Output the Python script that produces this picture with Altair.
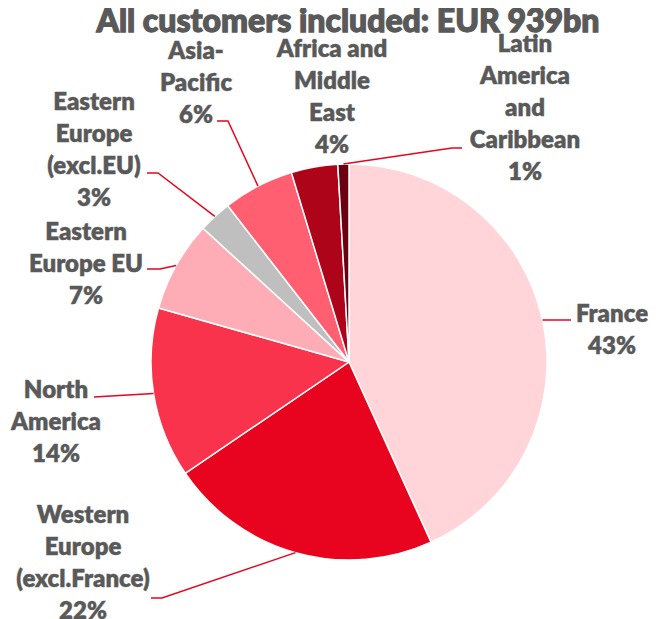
import math
import altair as alt
import pandas as pd

# ---- data ----
regions = [
    "France",
    "Western Europe (excl.France)",
    "North America",
    "Eastern Europe EU",
    "Eastern Europe (excl.EU)",
    "Asia-Pacific",
    "Africa and Middle East",
    "Latin America and Caribbean",
]
shares = [43.2, 22.3, 13.9, 7.4, 2.7, 5.8, 3.8, 0.9]
label_names = [
    ["France"],
    ["Western", "Europe", "(excl.France)"],
    ["North", "America"],
    ["Eastern", "Europe  EU"],
    ["Eastern", "Europe", "(excl.EU)"],
    ["Asia-", "Pacific"],
    ["Africa and", "Middle", "East"],
    ["Latin", "America", "and", "Caribbean"],
]
title_text = "All customers included: EUR 939bn"

# ---- styles / layout ----
colors = ["#FFD5DA", "#E8041E", "#F8334B", "#FEADB6", "#BFBFBF", "#FF5F70", "#AE0419", "#6B0010"]
text_color = "#595959"
leader_color = "#E8041E"
CX, CY, R = 341, 354, 198
# label anchor: (centre x, first baseline y) in view pixels
label_pos = [(604, 314), (75, 515), (48, 390), (78, 232), (86, 102), (188, 51), (324, 49), (517, 44)]
# leader elbow and end points (None = no leader)
leader_pts = [
    [(563, 312), (563, 312)],
    [(154, 590), (143, 590)],
    [(86, 389), (86, 389)],
    [(152, 261), (139, 261)],
    [(150, 165), (139, 165)],
    [(220, 113), (209, 113)],
    None,
    [(444, 140), (454, 140)],
]

df = pd.DataFrame({"region": regions, "share": shares, "idx": range(len(regions))})
df["label"] = [
    "\n".join(n + [f"{round(v)}%"]) for n, v in zip(label_names, shares)
]
df["lx"] = [p[0] for p in label_pos]
df["ly"] = [p[1] for p in label_pos]

rows = []
cum = 0.0
for i, (reg, v) in enumerate(zip(regions, shares)):
    mid = (cum + v / 2) / 100 * 2 * math.pi
    cum += v
    if leader_pts[i] is None:
        continue
    sx = CX + R * math.sin(mid)
    sy = CY - R * math.cos(mid)
    pts = [(sx, sy)] + leader_pts[i]
    for k, (x, y) in enumerate(pts):
        rows.append({"region": reg, "pt": k, "x": x, "y": y})
lines_df = pd.DataFrame(rows)

pie = (
    alt.Chart(df)
    .mark_arc(outerRadius=R, stroke="white", strokeWidth=1.5)
    .encode(
        theta=alt.Theta("share:Q", stack=True),
        order=alt.Order("idx:Q"),
        color=alt.Color("region:N", scale=alt.Scale(domain=regions, range=colors), legend=None),
        x=alt.value(CX),
        y=alt.value(CY),
    )
)

leaders = (
    alt.Chart(lines_df)
    .mark_line(color=leader_color, strokeWidth=1.5)
    .encode(
        x=alt.X("x:Q", scale=None, axis=None),
        y=alt.Y("y:Q", scale=None, axis=None),
        detail="region:N",
        order="pt:Q",
    )
)

labels = (
    alt.Chart(df)
    .mark_text(
        font="Lato", fontSize=24, fontWeight=800, color=text_color,
        stroke=text_color, strokeWidth=0.4,
        align="center", baseline="alphabetic", lineBreak="\n", lineHeight=32,
    )
    .encode(
        x=alt.X("lx:Q", scale=None, axis=None),
        y=alt.Y("ly:Q", scale=None, axis=None),
        text="label:N",
    )
)

title = (
    alt.Chart(pd.DataFrame({"t": [title_text]}))
    .mark_text(font="Lato", fontSize=32, fontWeight=900, color=text_color,
               stroke=text_color, strokeWidth=1.3,
               align="center", baseline="alphabetic")
    .encode(text="t:N", x=alt.value(340), y=alt.value(24))
)

chart = (
    alt.layer(pie, leaders, labels, title)
    .properties(width=640, height=611, padding=0, autosize=alt.AutoSizeParams(type="none"))
    .configure_view(stroke=None)
)

chart.save("out.html", embed_options={"renderer": "svg", "actions": False})
